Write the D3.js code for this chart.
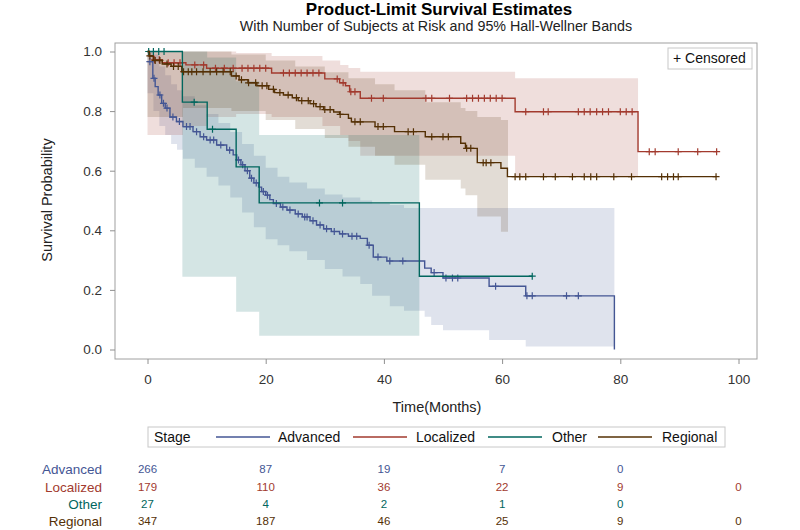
<!DOCTYPE html>
<html><head><meta charset="utf-8">
<script src="https://cdn.jsdelivr.net/npm/d3@7"></script>
<style>body{margin:0;background:#fff} text{font-family:"Liberation Sans",Arial,sans-serif}</style>
</head><body><svg id="c" width="800" height="530"></svg>
<script>
// ---------- data ----------
const stages = ["Advanced", "Localized", "Other", "Regional"];
const stageColors = ["#445694", "#A23A2E", "#01665E", "#543005"];
const xTicks = [0, 20, 40, 60, 80, 100];
const yTicks = [0, 0.2, 0.4, 0.6, 0.8, 1.0];

// Kaplan-Meier step estimates (time of step, survival after step)
const advTime = [0, 0.9, 1.3, 1.8, 2.4, 3.0, 3.8, 4.9, 6.0, 7.7, 8.9, 10, 11.7, 13.4, 14.5, 15.1, 15.8, 16.5, 17.3, 18.0, 18.8, 19.3, 20.0, 20.7, 21.3, 22.5, 23.6, 25.0, 26.2, 27.5, 28.6, 29.8, 31.1, 32.5, 34.0, 36.0, 37.2, 38.2, 40.5, 46.9, 48.0, 50.0, 57.8, 64.0, 79];
const advSurv = [0.966, 0.91, 0.882, 0.854, 0.826, 0.81, 0.78, 0.765, 0.748, 0.731, 0.714, 0.703, 0.686, 0.669, 0.653, 0.636, 0.62, 0.60, 0.575, 0.559, 0.545, 0.53, 0.518, 0.503, 0.49, 0.478, 0.468, 0.455, 0.445, 0.432, 0.418, 0.405, 0.396, 0.388, 0.38, 0.373, 0.35, 0.31, 0.297, 0.273, 0.258, 0.24, 0.212, 0.18, 0];
const advEnd = 79;
const advCens = [0.4, 1.1, 2.1, 2.7, 3.3, 4.3, 5.4, 6.6, 7.2, 8.3, 9.5, 10.6, 11.2, 12.4, 13.9, 15.4, 16.1, 16.9, 17.6, 18.4, 19.6, 20.3, 21.8, 22.9, 24.1, 25.5, 26.6, 27.0, 28.0, 29.2, 30.3, 31.6, 33.0, 34.6, 35.4, 37.5, 39.0, 41.0, 43.2, 48.5, 50.5, 51.6, 52.5, 58.9, 64.2, 65.1, 70.9, 72.9];

const locTime = [0, 0.3, 1.0, 2.5, 6.5, 10, 21, 30, 32.5, 33.5, 34.2, 36, 62.2, 83];
const locSurv = [1.0, 0.985, 0.972, 0.962, 0.955, 0.944, 0.928, 0.908, 0.895, 0.885, 0.865, 0.843, 0.798, 0.664];
const locEnd = 96.3;
const locCens = [1.2, 2, 3.5, 4.5, 5.5, 8, 9.5, 11.5, 13, 14.5, 16, 17, 18, 19, 20, 23, 24, 25, 26, 27, 28, 29, 32.1, 33.1, 34.4, 35.1, 37.9, 39.9, 47.1, 48.1, 51.1, 54, 55, 56, 57, 58, 59, 60, 64, 67, 67.8, 72.9, 73.9, 74.9, 76, 77, 78, 80, 81, 82, 84.9, 85.9, 89.8, 93.1, 96.3];

const othTime = [0, 5.9, 10.1, 15.0, 18.9, 46.0];
const othSurv = [1.0, 0.83, 0.739, 0.613, 0.492, 0.246];
const othEnd = 65.1;
const othCens = [0.2, 1.0, 1.9, 2.8, 7.9, 11.0, 29.1, 33.0, 65.1];

const regTime = [0, 0.3, 1.0, 2.5, 4, 5.8, 14.2, 15.5, 17, 18.5, 20.5, 21.5, 23, 24.5, 25.5, 27.5, 28.5, 29.8, 31.5, 32.5, 34, 34.5, 38.5, 41.8, 47, 53, 53.8, 55.8, 59.8, 60.9];
const regSurv = [1.0, 0.985, 0.97, 0.958, 0.95, 0.932, 0.918, 0.905, 0.895, 0.885, 0.873, 0.862, 0.854, 0.845, 0.835, 0.825, 0.815, 0.805, 0.797, 0.789, 0.776, 0.764, 0.748, 0.731, 0.714, 0.692, 0.675, 0.627, 0.608, 0.58];
const regEnd = 96.2;
const regCens = [0.4, 1.3, 2.1, 3.3, 4.4, 5.2, 6.1, 6.9, 7.5, 8.3, 9.4, 10.6, 11.7, 12.8, 14, 15, 15.9, 17.1, 18.3, 19.4, 20.2, 21.3, 22.4, 23.8, 25.2, 26.1, 27.2, 28.1, 29.2, 30, 30.9, 32.6, 35.1, 36, 39, 39.9, 44.1, 45, 48.1, 50, 50.9, 54, 54.7, 56.8, 57.3, 58.1, 62.2, 63, 64, 67, 69, 71.9, 73.9, 75, 76, 78.9, 81.9, 87, 88, 89, 89.8, 96.2];

// 95% Hall-Wellner bands (step time, lower, upper)
const advBandTime = [0, 1, 2, 3, 4, 5, 6, 8, 10, 12, 14, 16, 18, 20, 22, 24, 27, 30, 33, 36, 38, 41, 43.4, 46.9, 48, 50, 57.8, 64];
const advBandLo = [0.86, 0.80, 0.75, 0.72, 0.69, 0.67, 0.64, 0.61, 0.58, 0.55, 0.51, 0.46, 0.41, 0.37, 0.35, 0.33, 0.30, 0.27, 0.245, 0.22, 0.18, 0.145, 0.13, 0.11, 0.082, 0.065, 0.032, 0.01];
const advBandHi = [1.0, 0.99, 0.95, 0.92, 0.89, 0.87, 0.85, 0.82, 0.79, 0.76, 0.73, 0.69, 0.65, 0.61, 0.58, 0.56, 0.54, 0.52, 0.51, 0.50, 0.49, 0.485, 0.475, 0.475, 0.475, 0.475, 0.475, 0.475];
const advBandEnd = 79;

const locBandTime = [0, 6, 10, 15, 21, 29.6, 32.6, 34, 36, 62.2];
const locBandLo = [0.72, 0.75, 0.78, 0.79, 0.78, 0.75, 0.72, 0.70, 0.65, 0.58];
const locBandHi = [1.0, 1.0, 1.0, 0.995, 0.985, 0.97, 0.955, 0.945, 0.932, 0.91];
const locBandEnd = 83;

const othBandTime = [5.9, 10.1, 15.0, 18.9];
const othBandLo = [0.244, 0.244, 0.127, 0.046];
const othBandHi = [1.0, 0.98, 0.90, 0.72];
const othBandEnd = 46.0;

const regBandTime = [0, 6, 14.2, 20, 25, 30, 34, 38.5, 41.8, 47, 53, 53.8, 55.8, 59.8];
const regBandLo = [0.78, 0.81, 0.80, 0.77, 0.74, 0.71, 0.68, 0.65, 0.62, 0.57, 0.54, 0.518, 0.446, 0.395];
const regBandHi = [1.0, 1.0, 0.99, 0.97, 0.95, 0.93, 0.91, 0.89, 0.87, 0.83, 0.81, 0.80, 0.78, 0.77];
const regBandEnd = 61;

// numbers at risk at xTicks
const riskAdvanced = [266, 87, 19, 7, 0, null];
const riskLocalized = [179, 110, 36, 22, 9, 0];
const riskOther = [27, 4, 2, 1, 0, null];
const riskRegional = [347, 187, 46, 25, 9, 0];

// ---------- assemble ----------
const series = [
  {name: stages[0], color: stageColors[0], t: advTime, s: advSurv, end: advEnd, cens: advCens, bt: advBandTime, lo: advBandLo, hi: advBandHi, bend: advBandEnd, risk: riskAdvanced},
  {name: stages[1], color: stageColors[1], t: locTime, s: locSurv, end: locEnd, cens: locCens, bt: locBandTime, lo: locBandLo, hi: locBandHi, bend: locBandEnd, risk: riskLocalized},
  {name: stages[2], color: stageColors[2], t: othTime, s: othSurv, end: othEnd, cens: othCens, bt: othBandTime, lo: othBandLo, hi: othBandHi, bend: othBandEnd, risk: riskOther},
  {name: stages[3], color: stageColors[3], t: regTime, s: regSurv, end: regEnd, cens: regCens, bt: regBandTime, lo: regBandLo, hi: regBandHi, bend: regBandEnd, risk: riskRegional}
];

const svg = d3.select("#c");
const frame = {l: 115, r: 757, t: 43, b: 359};
const x = d3.scaleLinear().domain([0, 100]).range([147.5, 738.5]);
const y = d3.scaleLinear().domain([0, 1]).range([349.5, 51.5]);

// title
svg.append("text").attr("x", 439).attr("y", 15).attr("text-anchor", "middle")
  .style("font-size", "17px").style("font-weight", "bold").attr("fill", "#000")
  .text("Product-Limit Survival Estimates");
svg.append("text").attr("x", 436).attr("y", 31).attr("text-anchor", "middle")
  .style("font-size", "14.3px").attr("fill", "#222")
  .text("With Number of Subjects at Risk and 95% Hall-Wellner Bands");

// clip
svg.append("clipPath").attr("id", "clip").append("rect")
  .attr("x", frame.l).attr("y", frame.t).attr("width", frame.r - frame.l).attr("height", frame.b - frame.t);
const plot = svg.append("g").attr("clip-path", "url(#clip)");

// bands
const area = d3.area().curve(d3.curveStepAfter)
  .x(d => x(d[0])).y0(d => y(d[1])).y1(d => y(d[2]));
series.forEach(s => {
  const pts = s.bt.map((t, i) => [t, s.lo[i], s.hi[i]]);
  pts.push([s.bend, s.lo[s.lo.length - 1], s.hi[s.hi.length - 1]]);
  plot.append("path").attr("d", area(pts)).attr("fill", s.color).attr("fill-opacity", 0.17);
});

// lines
const line = d3.line().curve(d3.curveStepAfter).x(d => x(d[0])).y(d => y(d[1]));
function survAt(s, t) {
  let v = s.s[0];
  for (let i = 0; i < s.t.length; i++) if (s.t[i] <= t) v = s.s[i];
  return v;
}
series.forEach(s => {
  const pts = s.t.map((t, i) => [t, s.s[i]]);
  pts.push([s.end, s.s[s.s.length - 1]]);
  plot.append("path").attr("d", line(pts)).attr("fill", "none")
    .attr("stroke", s.color).attr("stroke-width", 1.4);
  plot.append("g").selectAll("path").data(s.cens).join("path")
    .attr("d", t => {
      const cx = x(t), cy = y(survAt(s, t));
      return `M${cx - 3.5},${cy}h7M${cx},${cy - 3.5}v7`;
    })
    .attr("stroke", s.color).attr("stroke-width", 1.2).attr("fill", "none");
});

// frame
svg.append("rect").attr("x", frame.l).attr("y", frame.t)
  .attr("width", frame.r - frame.l).attr("height", frame.b - frame.t)
  .attr("fill", "none").attr("stroke", "#a0a0a0").attr("stroke-width", 1);

// axes
const yAxis = svg.append("g").attr("transform", `translate(${frame.l},0)`)
  .call(d3.axisLeft(y).tickValues(yTicks).tickFormat(d3.format(".1f")).tickSize(5).tickPadding(8));
const xAxis = svg.append("g").attr("transform", `translate(0,${frame.b})`)
  .call(d3.axisBottom(x).tickValues(xTicks).tickSize(5).tickPadding(10));
[yAxis, xAxis].forEach(a => {
  a.select(".domain").remove();
  a.selectAll(".tick line").attr("stroke", "#909090");
  a.selectAll(".tick text").attr("fill", "#333").style("font-size", "13.5px")
    .style("font-family", '"Liberation Sans",Arial,sans-serif');
});

svg.append("text").attr("x", 437).attr("y", 412).attr("text-anchor", "middle")
  .style("font-size", "14.5px").attr("fill", "#222").text("Time(Months)");
svg.append("text").attr("transform", "translate(52,200) rotate(-90)").attr("text-anchor", "middle")
  .style("font-size", "14.5px").attr("fill", "#222").text("Survival Probability");

// censored legend
svg.append("rect").attr("x", 668).attr("y", 48).attr("width", 84).attr("height", 21)
  .attr("fill", "#fff").attr("stroke", "#c8c8c8");
svg.append("text").attr("x", 673).attr("y", 63).style("font-size", "14px").attr("fill", "#111")
  .text("+ Censored");

// stage legend
svg.append("rect").attr("x", 148).attr("y", 427).attr("width", 577).attr("height", 20)
  .attr("fill", "#fff").attr("stroke", "#c8c8c8");
svg.append("text").attr("x", 154).attr("y", 442).style("font-size", "14px").attr("fill", "#111").text("Stage");
const legLineX = [216, 353, 488, 598];
const legTextX = [278, 416, 552, 662];
series.forEach((s, i) => {
  svg.append("line").attr("x1", legLineX[i]).attr("x2", legLineX[i] + 54).attr("y1", 437).attr("y2", 437)
    .attr("stroke", s.color).attr("stroke-width", 1.4);
  svg.append("text").attr("x", legTextX[i]).attr("y", 442).style("font-size", "14px").attr("fill", "#111").text(s.name);
});

// at-risk table
const rowY = [469, 487, 504, 521];
series.forEach((s, i) => {
  svg.append("text").attr("x", 102).attr("y", rowY[i] + 5).attr("text-anchor", "end")
    .style("font-size", "13.5px").attr("fill", s.color).text(s.name);
  svg.append("g").selectAll("text").data(xTicks.map((t, j) => [t, s.risk[j]]).filter(d => d[1] !== null))
    .join("text").attr("x", d => x(d[0])).attr("y", rowY[i] + 4).attr("text-anchor", "middle")
    .style("font-size", "11.5px").attr("fill", s.color).text(d => d[1]);
});
</script></body></html>
